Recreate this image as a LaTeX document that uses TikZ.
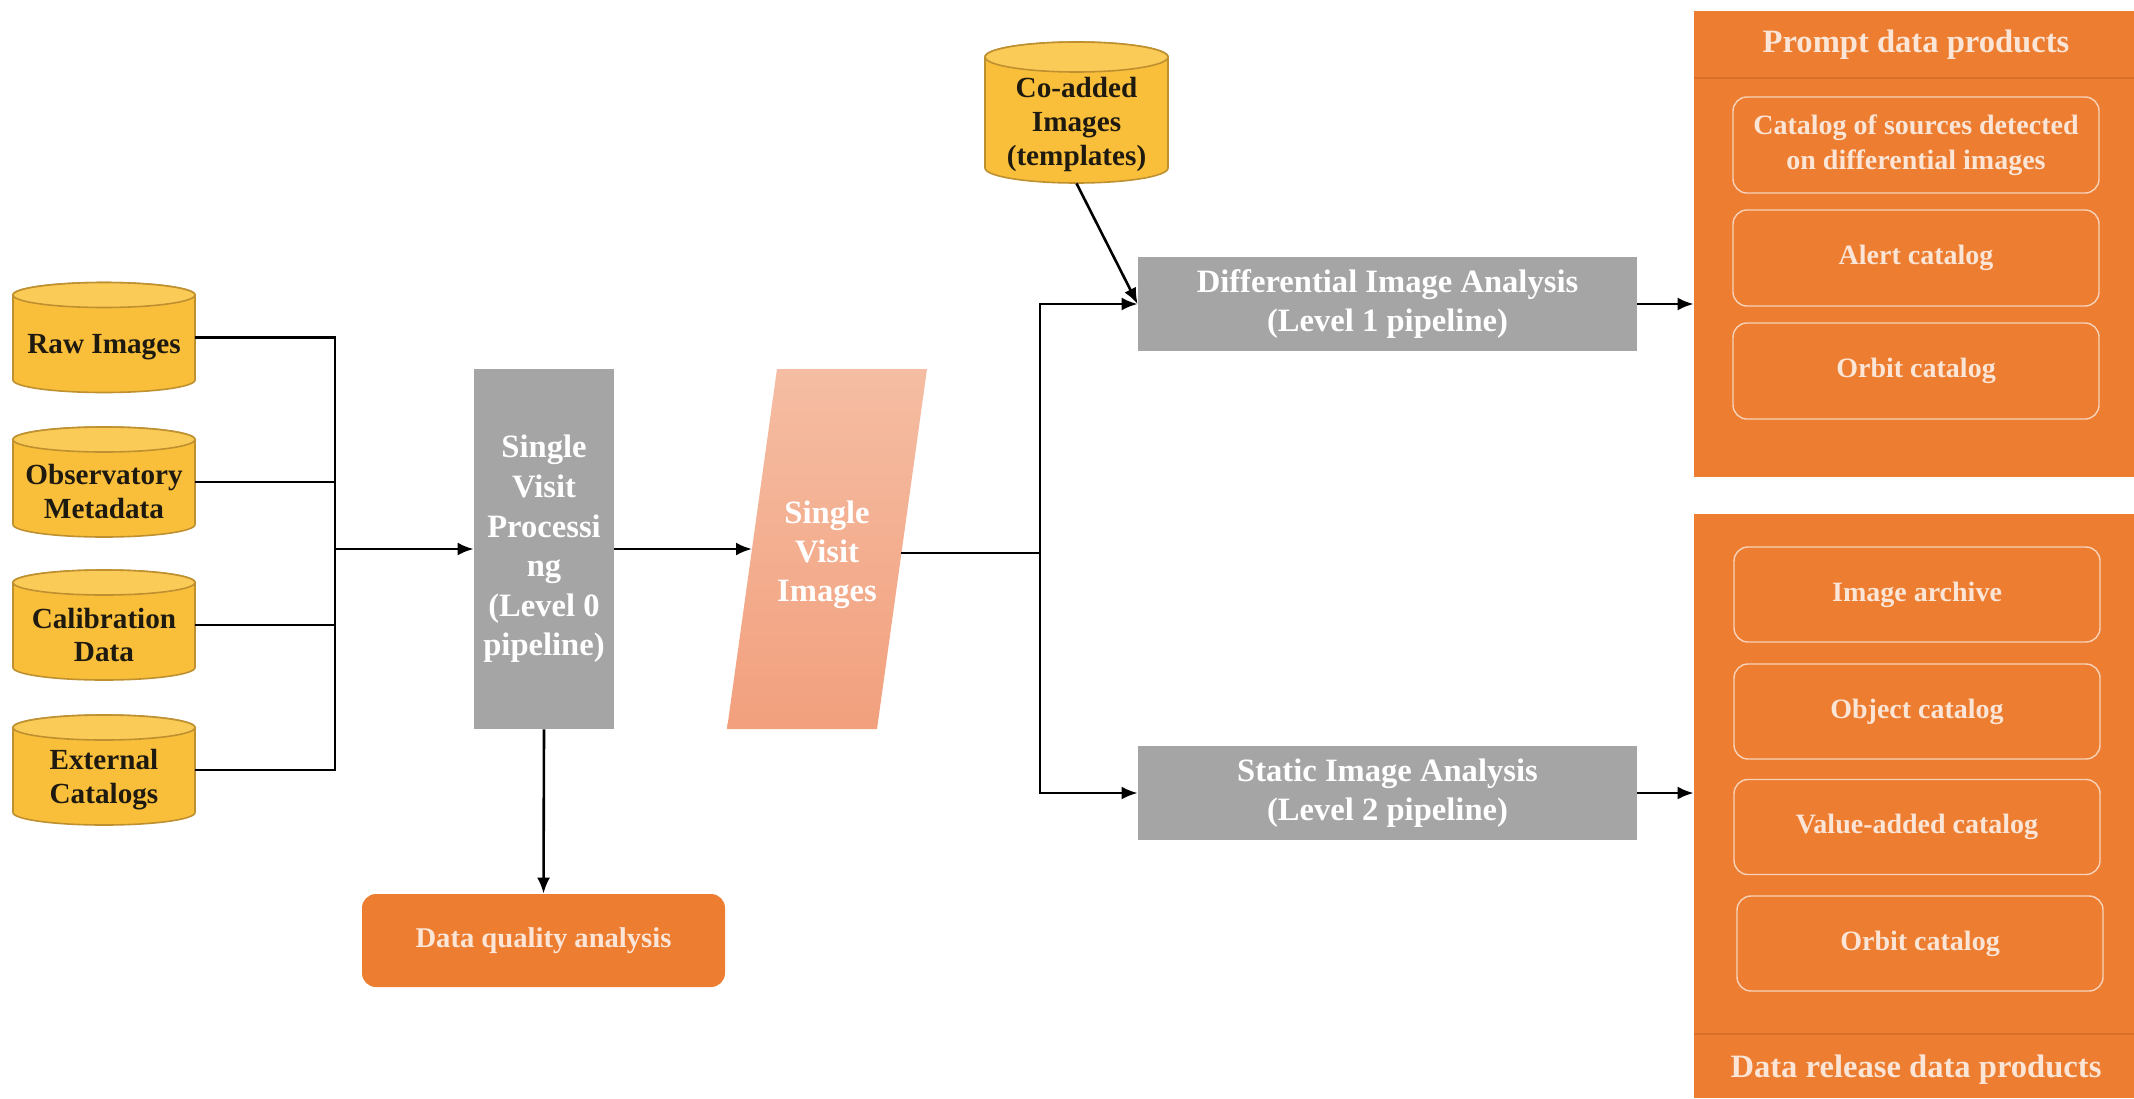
\documentclass[tikz,border=0pt]{standalone}
\usepackage{fontspec}
\setmainfont{Liberation Serif}
\usetikzlibrary{arrows.meta,calc}
\definecolor{cylfill}{HTML}{F9BF3B}
\definecolor{cyltop}{HTML}{FBCB58}
\definecolor{cylline}{HTML}{BF9030}
\definecolor{boxgray}{HTML}{A5A5A5}
\definecolor{panelor}{HTML}{ED7D31}
\definecolor{sepor}{HTML}{D96F28}
\definecolor{creamtxt}{HTML}{FBE5D6}
\definecolor{innerline}{HTML}{F8D3BA}
\definecolor{svitop}{HTML}{F5BDA3}
\definecolor{svibot}{HTML}{F2A07D}
\definecolor{darktxt}{HTML}{1F1A10}
\tikzset{
  cylshape/.style={fill=cylfill, draw=cylline, line width=0.8pt},
  cylrim/.style={fill=cyltop, draw=cylline, line width=0.8pt},
  cylbody/.style={inner sep=0pt},
  cyltext/.style={text=darktxt, align=center, inner sep=0pt,
    font=\fontsize{14.6pt}{17pt}\selectfont\bfseries},
  graybox/.style={fill=boxgray, text=white, align=center, inner sep=0pt,
    font=\fontsize{16.3pt}{19.8pt}\selectfont\bfseries},
  panel/.style={fill=panelor, inner sep=0pt, minimum width=220pt},
  paneltitle/.style={text=creamtxt, inner sep=0pt,
    font=\fontsize{16.3pt}{19pt}\selectfont\bfseries},
  innerbox/.style={draw=innerline, line width=0.7pt, rounded corners=7pt,
    minimum width=183pt, text=creamtxt, align=center, inner sep=0pt,
    font=\fontsize{14pt}{17.5pt}\selectfont\bfseries},
  dqbox/.style={fill=panelor, rounded corners=7pt, text=creamtxt, inner sep=0pt,
    minimum width=181.5pt, minimum height=46.5pt,
    font=\fontsize{14.3pt}{17pt}\selectfont\bfseries},
  conn/.style={draw=black, line width=1.3pt},
  arr/.style={conn, -{Latex[length=8pt,width=6.5pt]}},
}
% #1 name, #2 centre, #3 width, #4 height, #5 rim half-height, #6 text shift, #7 text
\newcommand{\dbcyl}[7]{%
  \path[cylshape,shift={(#2)}] (-#3/2,#4/2-#5) -- (-#3/2,-#4/2+#5)
    arc[start angle=180,end angle=360,x radius=#3/2,y radius=#5]
    -- (#3/2,#4/2-#5)
    arc[start angle=0,end angle=180,x radius=#3/2,y radius=#5] -- cycle;
  \path[cylrim,shift={(#2)}] (0,#4/2-#5) ellipse[x radius=#3/2,y radius=#5];
  \node[cylbody,minimum width=#3,minimum height=#4] (#1) at (#2) {};
  \node[cyltext] (#1-t) at ([yshift=#6]#1.center) {#7};
}
\begin{document}
\begin{tikzpicture}[x=0.5pt,y=-0.5pt]
\useasboundingbox (0,0) rectangle (2134,1098);
\fill[white] (0,0) rectangle (2134,1098);

% input databases
\dbcyl{raw}{104,337.5}{91pt}{55pt}{6.25pt}{-5pt}{Raw Images}
\dbcyl{obs}{104,482}{91pt}{55pt}{6.25pt}{-5pt}{Observatory\\Metadata}
\dbcyl{cal}{104,625}{91pt}{55pt}{6.25pt}{-5pt}{Calibration\\Data}
\dbcyl{ext}{104,770}{91pt}{55pt}{6.25pt}{-5pt}{External\\Catalogs}
\dbcyl{coadd}{1076.5,112.5}{91.5pt}{70.5pt}{7.5pt}{-6pt}{Co-added\\Images\\(templates)}

% processing
\node[graybox, minimum width=70pt, minimum height=180pt] (svp) at (544,549)
  {\vphantom{Sg}Single\\Visit\\Processi\\ng\\(Level 0\\pipeline)};

% single visit images parallelogram
\shade[top color=svitop, bottom color=svibot]
  (727,729) -- (877,729) -- (927,369) -- (777,369) -- cycle;
\node[text=white, align=center, inner sep=0pt,
  font=\fontsize{16.3pt}{19.5pt}\selectfont\bfseries] (svi) at (827,555)
  {Single\\Visit\\Images};
\coordinate (svil) at (752,549);
\coordinate (svir) at (901,553);

\node[graybox, minimum width=249.5pt, minimum height=47pt] (diff) at (1387.5,304)
  {Differential Image Analysis\\(Level 1 pipeline)};
\node[graybox, minimum width=249.5pt, minimum height=47pt] (static) at (1387.5,793)
  {Static Image Analysis\\(Level 2 pipeline)};

\node[dqbox] (dqa) at (543.5,940.5) {Data quality analysis};

% output panels
\node[panel, minimum height=233pt] (prompt) at (1914,244) {};
\draw[sepor, line width=0.8pt] (1694,78) -- (2134,78);
\node[paneltitle] (prompt-t) at (1916,45) {Prompt data products};
\node[innerbox, minimum height=48pt] (p1) at (1916,145)
  {Catalog of sources detected\\on differential images};
\node[innerbox, minimum height=48pt] (p2) at (1916,258) {Alert catalog};
\node[innerbox, minimum height=48pt] (p3) at (1916,371) {Orbit catalog};

\node[panel, minimum height=292pt] (release) at (1914,806) {};
\draw[sepor, line width=0.8pt] (1694,1034) -- (2134,1034);
\node[paneltitle] (release-t) at (1916,1070) {Data release data products};
\node[innerbox, minimum height=47.5pt] (r1) at (1917,594.5) {Image archive};
\node[innerbox, minimum height=47.5pt] (r2) at (1917,711.5) {Object catalog};
\node[innerbox, minimum height=47.5pt] (r3) at (1917,827) {Value-added catalog};
\node[innerbox, minimum height=47.5pt] (r4) at (1920,943.5) {Orbit catalog};

% connectors
\coordinate (j1) at (335,549);
\draw[conn] (raw.east) -| (j1);
\draw[conn] (ext.east) -| (j1);
\draw[conn] (obs.east) -- (obs.east -| j1);
\draw[conn] (cal.east) -- (cal.east -| j1);
\draw[arr] (j1) -- (j1 -| svp.west);
\draw[arr] (svp.east |- svil) -- (svil);
\draw[arr] (svp.south) -- (dqa.north);
\coordinate (j2) at (1040,553);
\draw[conn] (svir) -- (j2);
\draw[arr] (j2) |- (diff.west);
\draw[arr] (j2) |- (static.west);
\draw[arr] (coadd.south) -- (diff.west);
\draw[arr] (diff.east) -- (diff.east -| prompt.west);
\draw[arr] (static.east) -- (static.east -| release.west);
\end{tikzpicture}
\end{document}
